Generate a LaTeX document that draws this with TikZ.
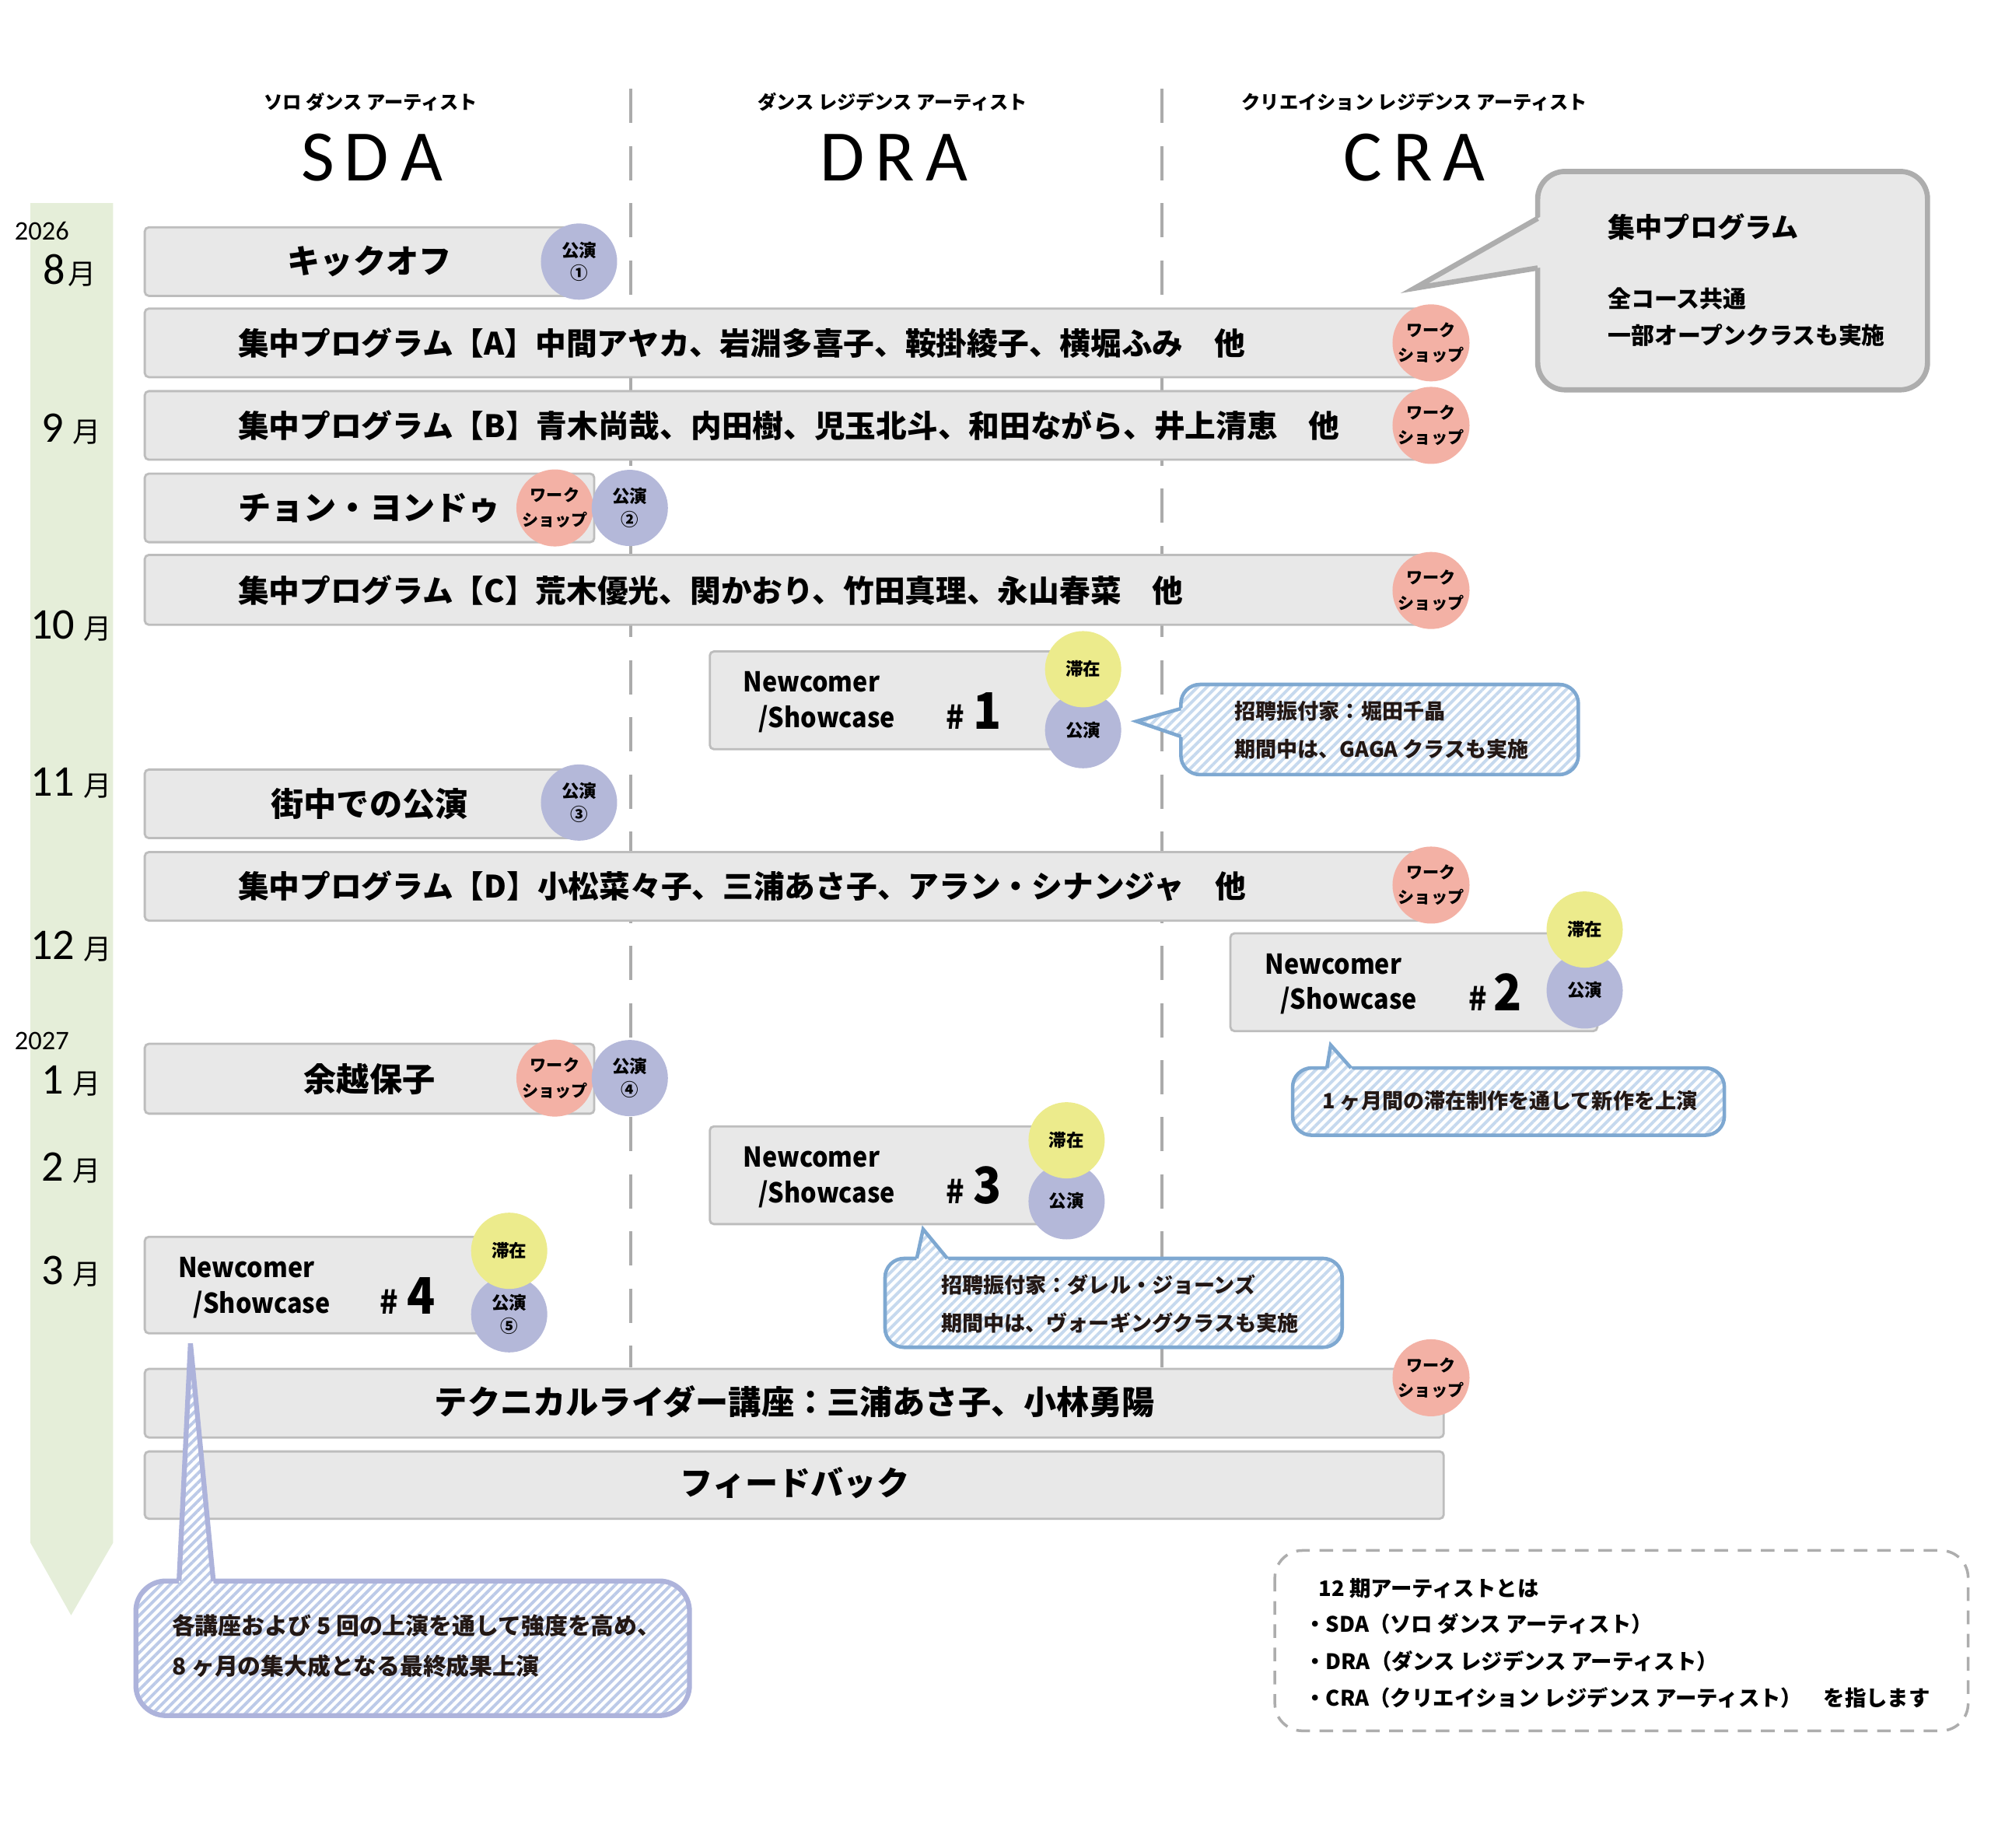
\documentclass[tikz,border=0pt]{standalone}
\usepackage{fontspec}
\setmainfont{Noto Sans CJK JP}
\newfontfamily\lat{Carlito}
\usetikzlibrary{patterns.meta,calc}
\definecolor{barfill}{HTML}{E8E8E8}
\definecolor{barline}{HTML}{BDBDBD}
\definecolor{wscol}{HTML}{F3B1A5}
\definecolor{perfcol}{HTML}{B4B8D9}
\definecolor{staycol}{HTML}{ECEB8C}
\definecolor{timegreen}{HTML}{E5EED9}
\definecolor{colline}{HTML}{ABABAB}
\definecolor{bluebd}{HTML}{7EA8D1}
\definecolor{bluehatch}{HTML}{C6D9EE}
\definecolor{lavbd}{HTML}{ADB3DB}
\definecolor{lavhatch}{HTML}{BCCAE8}
\definecolor{graybd}{HTML}{ADADAD}
\definecolor{inkc}{HTML}{231815}
\newcommand\myfs[2]{\fontsize{#1}{#2}\selectfont}
\newcommand\monlab[2]{{\lat\myfs{16}{16}#1}\hspace{#2}{\myfs{10.3}{12}月}}
\begin{document}
\begin{tikzpicture}[x=0.16327mm,y=-0.16327mm,
 bar/.style={draw=barline,fill=barfill,line width=0.8pt,rounded corners=1.5pt},
 circ/.style={circle,inner sep=0pt,minimum size=9.8mm,align=center,text=black},
 ws/.style={circ,fill=wscol,font=\bfseries\myfs{6}{9.2}},
 perf/.style={circ,fill=perfcol,font=\bfseries\myfs{6.4}{8.4}},
 stay/.style={circ,fill=staycol,font=\bfseries\myfs{6.4}{8}},
 btxt/.style={inner sep=0pt,font=\bfseries\myfs{12}{14}},
 ptxt/.style={inner sep=0pt,anchor=west,font=\bfseries\myfs{11.3}{13}},
 ctxt/.style={inner sep=0pt,anchor=west,font=\bfseries\myfs{7.7}{9},text=inkc},
 ftxt/.style={inner sep=0pt,anchor=west,font=\bfseries\myfs{8.5}{10},text=inkc},
 lg/.style={inner sep=0pt,anchor=west,font=\bfseries\myfs{7.8}{9}},
 gtxt/.style={inner sep=0pt,anchor=west,font=\bfseries\myfs{8.5}{10}},
 hdr/.style={inner sep=0pt,font=\bfseries\myfs{6.9}{8}},
 bighdr/.style={inner sep=0pt,font=\lat\myfs{26.5}{28}},
 yr/.style={inner sep=0pt,font=\lat\myfs{9.8}{10}},
 mon/.style={inner sep=0pt},
 nctxt/.style={inner sep=0pt,anchor=base west,font=\bfseries\myfs{10}{12},xscale=0.92,transform shape},
 hashtxt/.style={inner sep=0pt,anchor=base west,font=\bfseries\myfs{12}{13},xscale=0.92,transform shape},
 numtxt/.style={inner sep=0pt,anchor=base west,font=\bfseries\myfs{18.4}{20},xscale=0.92,transform shape},
 coldash/.style={draw=colline,line width=1.15pt,dash pattern=on 12.5pt off 8.4pt},
 hatchblue/.style={preaction={fill=white},pattern={Lines[angle=45,distance=2.4pt,line width=1.1pt]},pattern color=bluehatch},
 hatchlav/.style={preaction={fill=white},pattern={Lines[angle=45,distance=2.4pt,line width=1.1pt]},pattern color=lavhatch},
 bluebord/.style={draw=bluebd,line width=1.3pt},
 lavbord/.style={draw=lavbd,line width=1.8pt},
 graybord/.style={draw=graybd,line width=1.9pt}
]
\useasboundingbox (0,0) rectangle (1568,1455);
\fill[white] (0,0) rectangle (1568,1455);

% timeline arrow
\fill[timegreen] (24,160) -- (89,160) -- (89,1215) -- (56,1272) -- (24,1215) -- cycle;

% column dividers
\coordinate (d1t) at (497,70); \coordinate (d1b) at (497,1077);
\coordinate (d2t) at (915,70); \coordinate (d2b) at (915,1077);
\draw[coldash] (d1t) -- (d1b);
\draw[coldash] (d2t) -- (d2b);

% headers
\node[hdr] (h1) at (292,80) {ソロ ダンス アーティスト};
\node[hdr] (h2) at (703,80) {ダンス レジデンス アーティスト};
\node[hdr] (h3) at (1114,80) {クリエイション レジデンス アーティスト};
\node[bighdr] (H1) at (293,124) {S\kern3.5pt D\kern4.5pt A};
\node[bighdr] (H2) at (704,124) {D\kern4pt R\kern4pt A};
\node[bighdr] (H3) at (1114,124) {C\kern4pt R\kern4pt A};

% years and months
\node[yr] (y26) at (33,182) {2026};
\node[yr] (y27) at (33,820) {2027};
\node[mon] (m8) at (55,213) {\monlab{8}{1pt}};
\node[mon] (m9) at (56,338) {\monlab{9}{3.2pt}};
\node[mon] (m10) at (56,493) {\monlab{10}{3.2pt}};
\node[mon] (m11) at (56,617) {\monlab{11}{3.2pt}};
\node[mon] (m12) at (56,745) {\monlab{12}{3.2pt}};
\node[mon] (m1) at (56,851) {\monlab{1}{3.2pt}};
\node[mon] (m2) at (56,920) {\monlab{2}{3.2pt}};
\node[mon] (m3) at (56,1001) {\monlab{3}{3.2pt}};

% bars
\draw[bar] (114,179) rectangle (460,233);
\node[btxt] (tk) at (291,206) {キックオフ};
\node[perf] (pk) at (456,206) {公演\\①};

\draw[bar] (114,243) rectangle (1137,297);
\node[ptxt] (tA) at (187,270) {集中プログラム【A】中間アヤカ、岩淵多喜子、鞍掛綾子、横堀ふみ　他};
\node[ws] (wA) at (1127,270) {ワーク\\ショップ};

\draw[bar] (114,308) rectangle (1137,362);
\node[ptxt] (tB) at (187,335) {集中プログラム【B】青木尚哉、内田樹、児玉北斗、和田ながら、井上清恵　他};
\node[ws] (wB) at (1127,335) {ワーク\\ショップ};

\draw[bar] (114,373) rectangle (468,427);
\node[btxt] (tch) at (291,400) {チョン・ヨンドゥ};
\node[ws] (wch) at (437,400) {ワーク\\ショップ};
\node[perf] (pch) at (496,400) {公演\\②};

\draw[bar] (114,437) rectangle (1137,492);
\node[ptxt] (tC) at (187,465) {集中プログラム【C】荒木優光、関かおり、竹田真理、永山春菜　他};
\node[ws] (wC) at (1127,465) {ワーク\\ショップ};

\draw[bar] (114,606) rectangle (460,660);
\node[btxt] (tm) at (291,633) {街中での公演};
\node[perf] (pm) at (456,632) {公演\\③};

\draw[bar] (114,671) rectangle (1137,725);
\node[ptxt] (tD) at (187,698) {集中プログラム【D】小松菜々子、三浦あさ子、アラン・シナンジャ　他};
\node[ws] (wD) at (1127,697) {ワーク\\ショップ};

\draw[bar] (114,822) rectangle (468,877);
\node[btxt] (ty) at (291,850) {余越保子};
\node[ws] (wy) at (437,849) {ワーク\\ショップ};
\node[perf] (py) at (496,849) {公演\\④};

\draw[bar] (114,1078) rectangle (1137,1132);
\node[btxt] (tt) at (626,1104) {テクニカルライダー講座：三浦あさ子、小林勇陽};
\node[ws] (wt) at (1127,1085) {ワーク\\ショップ};

\draw[bar] (114,1143) rectangle (1137,1196);
\node[btxt] (tf) at (626,1168) {フィードバック};

% Newcomer boxes
\draw[bar] (559,513) rectangle (845,590);
\node[nctxt] (n1a) at (585,545) {Newcomer};
\node[nctxt] (n1b) at (597,573) {/Showcase};
\node[hashtxt] (n1h) at (745,574) {\#};
\node[numtxt] (n1n) at (766,574) {1};
\node[perf] (n1p) at (853,575) {公演};
\node[stay] (n1s) at (853,527) {滞在};

\draw[bar] (969,735) rectangle (1258,812);
\node[nctxt] (n2a) at (996,767) {Newcomer};
\node[nctxt] (n2b) at (1008,795) {/Showcase};
\node[hashtxt] (n2h) at (1156,796) {\#};
\node[numtxt] (n2n) at (1176,796) {2};
\node[perf] (n2p) at (1248,780) {公演};
\node[stay] (n2s) at (1248,732) {滞在};

\draw[bar] (559,887) rectangle (835,964);
\node[nctxt] (n3a) at (585,919) {Newcomer};
\node[nctxt] (n3b) at (597,947) {/Showcase};
\node[hashtxt] (n3h) at (745,948) {\#};
\node[numtxt] (n3n) at (766,948) {3};
\node[perf] (n3p) at (840,946) {公演};
\node[stay] (n3s) at (840,898) {滞在};

\draw[bar] (114,974) rectangle (395,1050);
\node[nctxt] (n4a) at (140,1006) {Newcomer};
\node[nctxt] (n4b) at (152,1034) {/Showcase};
\node[hashtxt] (n4h) at (299,1035) {\#};
\node[numtxt] (n4n) at (320,1035) {4};
\node[perf] (n4p) at (401,1035) {公演\\⑤};
\node[stay] (n4s) at (401,985) {滞在};

% gray callout
\draw[graybord,fill=barfill,rounded corners=10pt] (1211,135) rectangle (1518,307);
\fill[barfill] ($(1114,227)!1.12!(1211,172)$) -- (1114,227) -- ($(1114,227)!1.12!(1211,211)$) -- cycle;
\draw[graybord,line join=miter] (1211,172) -- (1114,227) -- (1211,211);
\node[inner sep=0pt,anchor=west,font=\bfseries\myfs{10}{12}] (g1) at (1266,179) {集中プログラム};
\node[gtxt] (g2) at (1266,235) {全コース共通};
\node[gtxt] (g3) at (1266,264) {一部オープンクラスも実施};

% callout 1
\draw[hatchblue,bluebord,rounded corners=7pt] (930,539) rectangle (1243,610);
\fill[hatchblue] ($(895,568)!1.15!(930,558)$) -- (895,568) -- ($(895,568)!1.15!(930,580)$) -- cycle;
\draw[bluebord,line join=miter] (930,558) -- (895,568) -- (930,580);
\node[ctxt] (c1a) at (972,560) {招聘振付家：堀田千晶};
\node[ctxt] (c1b) at (972,590) {期間中は、GAGA クラスも実施};

% callout 2
\draw[hatchblue,bluebord,rounded corners=7pt] (1018,841) rectangle (1358,894);
\fill[hatchblue] ($(1048,823)!1.3!(1045,841)$) -- (1048,823) -- ($(1048,823)!1.3!(1064,841)$) -- cycle;
\draw[bluebord,line join=miter] (1045,841) -- (1048,823) -- (1064,841);
\node[ctxt] (c2a) at (1041,867) {1 ヶ月間の滞在制作を通して新作を上演};

% callout 3
\draw[hatchblue,bluebord,rounded corners=7pt] (697,991) rectangle (1057,1061);
\fill[hatchblue] ($(727,968)!1.3!(722,991)$) -- (727,968) -- ($(727,968)!1.3!(746,991)$) -- cycle;
\draw[bluebord,line join=miter] (722,991) -- (727,968) -- (746,991);
\node[ctxt] (c3a) at (741,1012) {招聘振付家：ダレル・ジョーンズ};
\node[ctxt] (c3b) at (741,1042) {期間中は、ヴォーギングクラスも実施};

% final callout
\draw[hatchlav,lavbord,rounded corners=11pt] (107,1245) rectangle (543,1351);
\fill[hatchlav] ($(150,1058)!1.08!(141,1245)$) -- (150,1058) -- ($(150,1058)!1.08!(168,1245)$) -- cycle;
\draw[lavbord,line join=miter] (141,1245) -- (150,1058) -- (168,1245);
\node[ftxt] (f1) at (135,1280) {各講座および 5 回の上演を通して強度を高め、};
\node[ftxt] (f2) at (135,1312) {8 ヶ月の集大成となる最終成果上演};

% legend
\draw[draw=graybd,line width=1pt,dash pattern=on 5pt off 3.5pt,rounded corners=10pt] (1004,1221) rectangle (1550,1363);
\node[lg] (l0) at (1038,1251) {12 期アーティストとは};
\node[lg] (l1) at (1027,1279) {・SDA（ソロ ダンス アーティスト）};
\node[lg] (l2) at (1027,1308) {・DRA（ダンス レジデンス アーティスト）};
\node[lg] (l3) at (1027,1337) {・CRA（クリエイション レジデンス アーティスト）　を指します};
\end{tikzpicture}
\end{document}
